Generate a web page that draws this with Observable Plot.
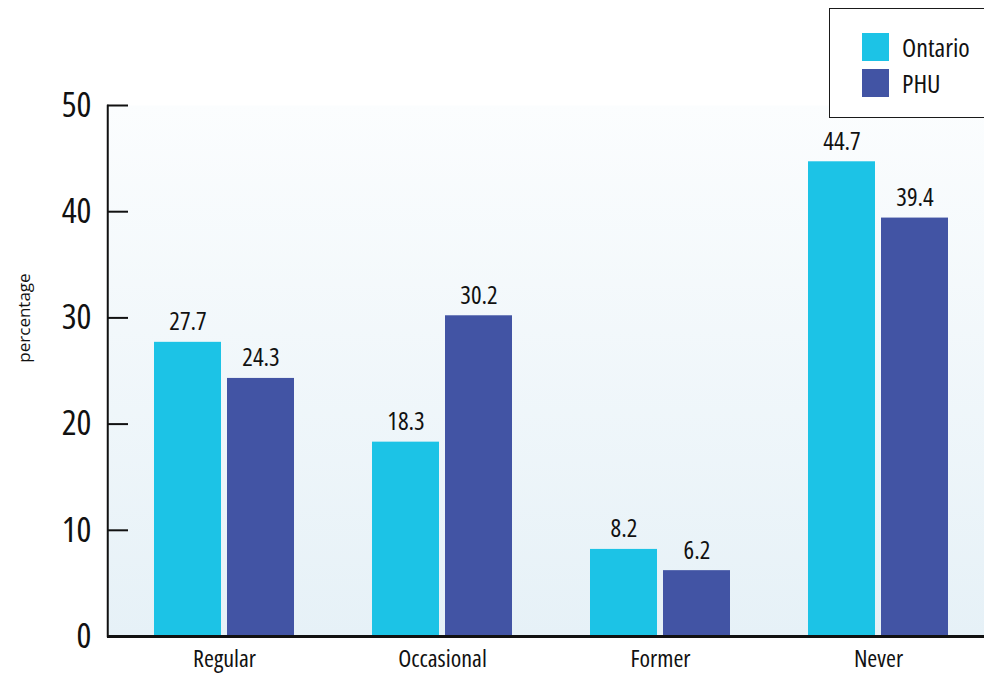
<!DOCTYPE html>
<html>
<head>
<meta charset="utf-8">
<script src="https://cdn.jsdelivr.net/npm/d3@7"></script>
<script src="https://cdn.jsdelivr.net/npm/@observablehq/plot@0.6"></script>
<style>
  html, body { margin: 0; padding: 0; background: #ffffff; }
  #wrap { position: relative; width: 984px; height: 675px; overflow: hidden; }
  #chart svg { display: block; }
  #chart svg text { font-family: "Open Sans", sans-serif; font-stretch: 75%; fill: #111; }
  #chart [aria-label^="y-axis"] text { font-size: 35px; }
  #chart [aria-label^="x-axis"] text { font-size: 24px; }
  #chart svg text.ylab { font-stretch: 100%; }
  #legend { position: absolute; left: 829px; top: 8px; width: 180px; height: 108px; border: 1.5px solid #1a1a1a; background: #fff;
    font-family: "Open Sans", sans-serif; font-stretch: 75%; font-size: 26px; color: #111; }
  #legend .row { position: absolute; left: 32px; display: flex; align-items: center; height: 28px; }
  #legend .sw { width: 27px; height: 28px; margin-right: 13px; }
</style>
</head>
<body>
<div id="wrap">
  <div id="chart"></div>
  <div id="legend"></div>
</div>
<script>
const categories = ["Regular", "Occasional", "Former", "Never"];
const series = ["Ontario", "PHU"];
const ontarioValues = [27.7, 18.3, 8.2, 44.7];
const phuValues = [24.3, 30.2, 6.2, 39.4];
const yTicks = [0, 10, 20, 30, 40, 50];
const colors = ["#1cc3e6", "#4254a4"];

const rows = [];
categories.forEach((c, i) => {
  rows.push({category: c, series: "Ontario", value: ontarioValues[i]});
  rows.push({category: c, series: "PHU", value: phuValues[i]});
});
const ont = rows.filter(d => d.series === "Ontario");
const phu = rows.filter(d => d.series === "PHU");

const W = 984, H = 675, mL = 107, mR = 0, mT = 105, mB = 39;
const frameW = W - mL - mR;
const tickLen = 21;
const half = 36.5;

const plot = Plot.plot({
  width: W,
  height: H,
  marginLeft: mL,
  marginRight: mR,
  marginTop: mT,
  marginBottom: mB,
  style: {background: "transparent", overflow: "visible"},
  x: {
    domain: categories,
    range: [107, 995],
    paddingInner: 0.3578,
    paddingOuter: 0.2156,
    round: false,
    tickSize: 0,
    tickPadding: 13,
    label: null
  },
  y: {
    domain: [0, 50],
    ticks: yTicks,
    tickFormat: d => String(d),
    tickSize: 0,
    tickPadding: 16,
    label: null
  },
  marks: [
    Plot.frame({fill: "url(#bgGrad)", stroke: "none"}),
    Plot.tickY(yTicks, {y: d => d, stroke: "#111", strokeWidth: 2, insetRight: frameW - tickLen}),
    Plot.barY(ont, {x: "category", y: "value", fill: colors[0], insetRight: 73}),
    Plot.barY(phu, {x: "category", y: "value", fill: colors[1], insetLeft: 73}),
    Plot.text(ont, {x: "category", y: "value", text: d => d.value.toFixed(1), dx: -half, dy: -12, lineAnchor: "bottom", fontSize: 25}),
    Plot.text(phu, {x: "category", y: "value", text: d => d.value.toFixed(1), dx: half, dy: -12, lineAnchor: "bottom", fontSize: 25}),
    // left axis line: a sliver of the frame along its left edge
    Plot.frame({fill: "none", stroke: "#111", strokeWidth: 1.5, insetRight: frameW - 0.5}),
    Plot.ruleY([0], {stroke: "#111", strokeWidth: 3}),
    Plot.text(["percentage"], {frameAnchor: "left", text: d => d, rotate: -90, dx: -83, dy: -53, textAnchor: "middle", lineAnchor: "middle", fontSize: 17, className: "ylab"})
  ]
});

// gradient definition for the plot-area background
const svg = d3.select(plot);
const defs = svg.insert("defs", ":first-child");
const g = defs.append("linearGradient").attr("id", "bgGrad").attr("x1", 0).attr("y1", 0).attr("x2", 0).attr("y2", 1);
g.append("stop").attr("offset", "0%").attr("stop-color", "#fbfdfe");
g.append("stop").attr("offset", "100%").attr("stop-color", "#e6f1f7");
svg.selectAll("text").filter(function() { return this.textContent === "percentage"; }).attr("class", "ylab");

document.getElementById("chart").appendChild(plot);

// legend
const legend = document.getElementById("legend");
series.forEach((s, i) => {
  const row = document.createElement("div");
  row.className = "row";
  row.style.top = (24 + i * 36) + "px";
  const sw = document.createElement("div");
  sw.className = "sw";
  sw.style.background = colors[i];
  const label = document.createElement("span");
  label.textContent = s;
  row.appendChild(sw);
  row.appendChild(label);
  legend.appendChild(row);
});
</script>
</body>
</html>
